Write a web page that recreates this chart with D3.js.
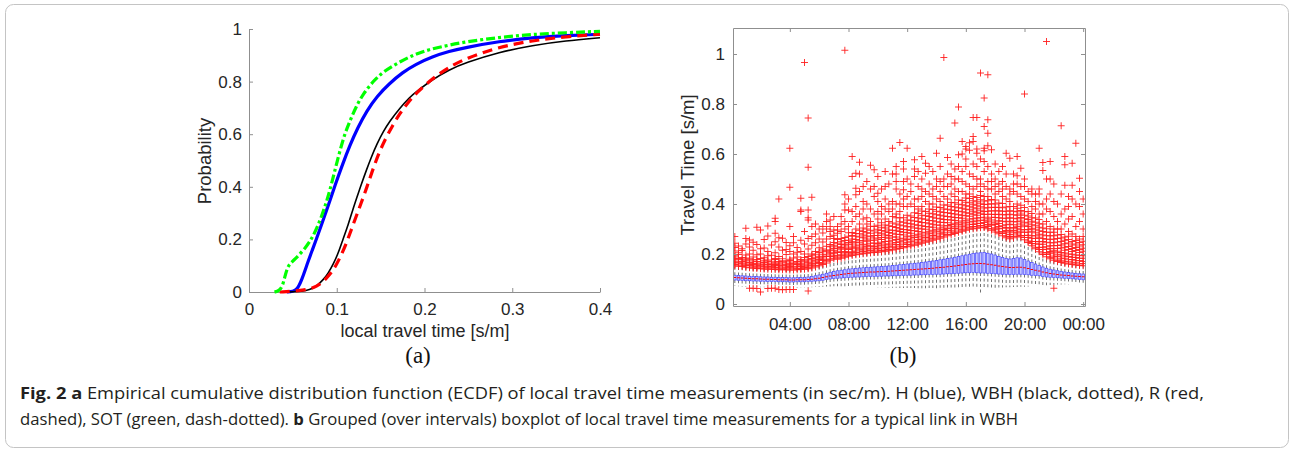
<!DOCTYPE html>
<html>
<head>
<meta charset="utf-8">
<script src="https://cdn.jsdelivr.net/npm/d3@7"></script>
<style>
body { margin: 0; background: #fff; }
svg { display: block; }
</style>
</head>
<body>
<svg id="fig" width="1294" height="453"></svg>
<script>
// ---------------- data: panel (a) ECDF curves, [travel time, probability] ----------------
let ecdfH = [[0.043,0],[0.05,0.002],[0.055,0.01],[0.06,0.044],[0.067,0.113],[0.072,0.158],[0.077,0.203],
  [0.082,0.25],[0.087,0.298],[0.092,0.345],[0.098,0.405],[0.106,0.48],[0.115,0.558],[0.124,0.625],[0.134,0.688],
  [0.146,0.745],[0.16,0.793],[0.175,0.835],[0.19,0.866],[0.209,0.895],[0.228,0.915],[0.247,0.93],[0.285,0.953],
  [0.323,0.967],[0.361,0.975],[0.4,0.98]];
let ecdfWBH = [[0.039,0],[0.05,0.001],[0.06,0.003],[0.069,0.008],[0.077,0.022],[0.0845,0.046],[0.09,0.07],
  [0.096,0.105],[0.102,0.15],[0.107,0.2],[0.113,0.255],[0.118,0.31],[0.123,0.36],[0.128,0.41],[0.134,0.465],
  [0.139,0.51],[0.146,0.565],[0.153,0.61],[0.16,0.648],[0.172,0.7],[0.183,0.74],[0.19,0.76],[0.209,0.808],
  [0.228,0.845],[0.247,0.872],[0.285,0.912],[0.323,0.938],[0.361,0.955],[0.4,0.967]];
let ecdfR = [[0.035,0],[0.058,0.005],[0.07,0.012],[0.077,0.022],[0.083,0.035],[0.088,0.052],[0.094,0.075],
  [0.0996,0.103],[0.105,0.14],[0.111,0.185],[0.116,0.232],[0.122,0.286],[0.128,0.34],[0.134,0.395],[0.14,0.455],
  [0.147,0.52],[0.155,0.58],[0.164,0.635],[0.172,0.68],[0.18,0.715],[0.19,0.755],[0.209,0.812],[0.228,0.855],
  [0.247,0.888],[0.285,0.932],[0.323,0.956],[0.361,0.971],[0.4,0.98]];
let ecdfSOT = [[0.029,0],[0.034,0.004],[0.038,0.02],[0.041,0.06],[0.044,0.095],[0.048,0.112],[0.054,0.13],
  [0.064,0.166],[0.071,0.2],[0.077,0.24],[0.083,0.29],[0.088,0.34],[0.092,0.385],[0.097,0.45],[0.103,0.53],
  [0.109,0.6],[0.115,0.65],[0.122,0.705],[0.13,0.752],[0.141,0.8],[0.153,0.838],[0.172,0.876],[0.19,0.905],
  [0.209,0.926],[0.247,0.952],[0.285,0.968],[0.323,0.98],[0.361,0.986],[0.4,0.991]];

let aXTicks = [0, 0.1, 0.2, 0.3, 0.4];
let aXTickLabels = ["0", "0.1", "0.2", "0.3", "0.4"];
let aYTicks = [0, 0.2, 0.4, 0.6, 0.8, 1];
let aYTickLabels = ["0", "0.2", "0.4", "0.6", "0.8", "1"];

// ---------------- data: panel (b) boxplot per 15-min slot ----------------
let slots = d3.range(1, 97);
let bXTicks = [16, 32, 48, 64, 80, 96];
let bXTickLabels = ["04:00", "08:00", "12:00", "16:00", "20:00", "00:00"];
let bYTicks = [0, 0.2, 0.4, 0.6, 0.8, 1];
let bYTickLabels = ["0", "0.2", "0.4", "0.6", "0.8", "1"];

let med = [.106,.105,.104,.103, .102,.101,.101,.100, .099,.099,.098,.098, .097,.097,.097,.096,
  .096,.097,.097,.097, .098,.099,.101,.103, .106,.109,.112,.114, .116,.118,.120,.122,
  .123,.124,.125,.126, .127,.128,.128,.129, .130,.130,.131,.132, .133,.134,.135,.136,
  .137,.138,.139,.140, .141,.142,.143,.145, .146,.147,.149,.150, .152,.154,.156,.158,
  .160,.161,.162,.162, .161,.159,.157,.155, .152,.150,.148,.146, .146,.147,.147,.145,
  .142,.138,.135,.132, .128,.125,.122,.120, .118,.116,.115,.114, .112,.111,.110,.109];
let q1 = [.096,.095,.094,.093, .093,.092,.092,.091, .091,.090,.090,.090, .089,.089,.089,.088,
  .088,.089,.089,.089, .090,.091,.092,.093, .095,.098,.100,.102, .103,.104,.105,.106,
  .107,.108,.108,.109, .110,.110,.110,.111, .111,.112,.112,.113, .113,.114,.114,.115,
  .115,.116,.116,.117, .117,.118,.118,.119, .119,.120,.121,.121, .122,.123,.124,.125,
  .125,.126,.125,.124, .124,.123,.122,.121, .120,.119,.118,.118, .118,.119,.119,.118,
  .117,.115,.114,.113, .110,.108,.107,.106, .105,.104,.103,.102, .101,.100,.098,.097];
let q3 = [.115,.114,.113,.112, .111,.110,.110,.109, .108,.108,.107,.107, .106,.106,.106,.105,
  .105,.106,.106,.107, .108,.110,.113,.116, .119,.123,.127,.130, .133,.135,.137,.140,
  .141,.142,.144,.145, .146,.147,.148,.149, .150,.151,.152,.154, .155,.157,.158,.160,
  .161,.163,.164,.166, .168,.170,.172,.174, .177,.179,.182,.184, .187,.190,.193,.196,
  .199,.202,.204,.205, .206,.203,.200,.196, .190,.186,.182,.180, .182,.185,.184,.178,
  .172,.166,.160,.154, .148,.143,.139,.136, .133,.130,.128,.126, .124,.122,.121,.120];
let wLo = [.072,.071,.070,.069, .069,.068,.068,.067, .067,.066,.066,.066, .065,.065,.065,.065,
  .065,.065,.066,.066, .066,.067,.068,.068, .069,.070,.070,.071, .071,.071,.070,.070,
  .069,.069,.068,.068, .067,.067,.066,.066, .066,.066,.065,.065, .065,.064,.064,.064,
  .064,.064,.063,.063, .063,.064,.064,.060, .065,.065,.066,.066, .066,.067,.067,.066,
  .066,.065,.064,.044, .060,.062,.062,.064, .066,.066,.067,.067, .068,.068,.069,.069,
  .070,.071,.072,.073, .074,.075,.076,.077, .078,.078,.079,.079, .080,.080,.081,.081];
let wHi = [.150,.148,.146,.144, .142,.140,.139,.138, .137,.136,.136,.135, .134,.134,.134,.133,
  .133,.134,.135,.136, .138,.141,.145,.150, .155,.161,.172,.178, .176,.180,.184,.188,
  .191,.194,.196,.198, .200,.202,.203,.204, .206,.208,.210,.213, .216,.219,.222,.226,
  .229,.232,.236,.240, .244,.248,.252,.256, .260,.265,.270,.275, .279,.284,.288,.292,
  .296,.298,.300,.302, .303,.298,.292,.285, .278,.270,.262,.258, .262,.268,.265,.254,
  .243,.230,.218,.206, .195,.186,.178,.172, .167,.163,.160,.157, .155,.153,.151,.150];
let outliers = [
  [.153,.158,.167,.171,.18,.188,.193,.212,.226,.243,.27],
  [.151,.16,.165,.177,.182,.198,.205,.232],
  [.15,.155,.163,.17,.179,.186,.214,.221],
  [.147,.153,.159,.168,.175,.184,.196,.24,.262,.303],
  [.063,.145,.154,.16,.166,.177,.181,.2,.228,.256],
  [.063,.143,.149,.158,.163,.172,.188,.215,.247],
  [.062,.142,.147,.153,.161,.17,.178,.197,.238,.307],
  [.048,.141,.149,.155,.159,.168,.182,.2,.221,.296],
  [.14,.144,.151,.16,.166,.175,.185,.224,.258],
  [.062,.139,.147,.152,.158,.169,.176,.193,.21,.272,.312],
  [.063,.139,.143,.15,.157,.163,.171,.195,.236],
  [.063,.138,.146,.154,.158,.165,.178,.182,.205,.249,.283,.33,.343],
  [.058,.137,.141,.148,.156,.161,.17,.19,.228,.265,.42],
  [.057,.137,.144,.152,.155,.167,.173,.181,.215,.263],
  [.058,.137,.141,.147,.157,.16,.169,.198,.218,.246],
  [.058,.136,.145,.15,.155,.163,.174,.179,.21,.233,.31,.467,.623],
  [.058,.136,.141,.148,.157,.161,.168,.184,.2,.245,.27],
  [.137,.143,.149,.158,.164,.17,.188,.207,.226],
  [.138,.142,.15,.155,.161,.172,.178,.21,.255,.37,.376,.423],
  [.139,.146,.151,.159,.168,.173,.186,.2,.24,.29,.966],
  [.052,.141,.145,.153,.164,.168,.179,.19,.22,.262,.336,.345,.376,.547,.744],
  [.144,.152,.157,.163,.176,.182,.195,.2,.235,.27,.31,.427],
  [.148,.153,.163,.169,.175,.187,.199,.21,.245,.28,.32],
  [.153,.161,.166,.178,.184,.191,.206,.225,.26,.3],
  [.158,.163,.174,.18,.188,.199,.212,.22,.248,.284,.31],
  [.164,.171,.177,.19,.196,.209,.215,.231,.26,.3,.33,.36],
  [.175,.18,.19,.201,.207,.216,.229,.238,.27,.29,.31,.336],
  [.181,.189,.195,.203,.215,.222,.235,.246,.262,.275,.296,.35],
  [.179,.185,.193,.206,.211,.223,.229,.243,.258,.283,.296,.31],
  [.183,.192,.197,.207,.219,.226,.238,.249,.262,.29,.32,.35],
  [.187,.193,.204,.21,.223,.232,.24,.254,.266,.3,.33,.376,.4,.437,1.015],
  [.191,.199,.206,.218,.224,.237,.246,.255,.271,.285,.31,.376,.42],
  [.194,.201,.209,.221,.228,.24,.249,.26,.274,.286,.33,.37,.51,.59],
  [.197,.206,.212,.225,.232,.247,.258,.271,.282,.3,.35,.39,.437,.463,.523],
  [.199,.204,.217,.223,.236,.245,.253,.268,.281,.295,.32,.36,.45,.52,.567],
  [.201,.21,.216,.228,.239,.253,.265,.276,.29,.304,.34,.38,.41,.47],
  [.203,.208,.221,.229,.236,.251,.26,.272,.285,.3,.32,.345,.4,.49],
  [.205,.214,.22,.233,.243,.255,.269,.283,.295,.311,.33,.38,.46,.555],
  [.206,.211,.224,.23,.244,.255,.264,.274,.292,.31,.36,.43,.47,.537],
  [.207,.216,.222,.236,.242,.26,.274,.285,.299,.315,.34,.37,.41,.443,.51],
  [.209,.214,.228,.235,.247,.258,.266,.281,.294,.307,.325,.36,.39,.46],
  [.211,.22,.226,.24,.25,.267,.276,.289,.304,.316,.34,.38,.42,.47,.53],
  [.213,.218,.232,.239,.251,.263,.274,.286,.296,.313,.33,.37,.4,.48],
  [.216,.225,.231,.244,.255,.268,.283,.295,.31,.324,.35,.38,.41,.52,.623],
  [.219,.224,.238,.246,.258,.268,.279,.293,.306,.32,.345,.36,.4,.46,.49,.52,.55],
  [.222,.231,.237,.251,.26,.278,.29,.301,.316,.329,.345,.37,.4,.44,.646],
  [.225,.23,.244,.253,.263,.276,.287,.298,.313,.327,.345,.39,.42,.457,.49,.54,.57],
  [.229,.238,.245,.258,.269,.285,.297,.309,.323,.336,.355,.39,.43,.5,.623],
  [.232,.237,.251,.26,.272,.283,.294,.309,.321,.335,.352,.4,.45,.48],
  [.235,.244,.252,.266,.275,.293,.304,.317,.332,.346,.365,.39,.42,.51,.54,.577],
  [.239,.245,.258,.268,.279,.29,.303,.315,.33,.344,.362,.38,.42,.47,.53],
  [.243,.252,.26,.272,.284,.3,.313,.326,.341,.355,.372,.39,.43,.46,.5,.59],
  [.247,.253,.266,.276,.287,.299,.31,.325,.339,.353,.37,.41,.45,.523,.563],
  [.251,.26,.268,.281,.291,.308,.321,.334,.35,.363,.38,.4,.44,.48,.55],
  [.255,.261,.274,.284,.295,.307,.319,.333,.347,.361,.378,.4,.43,.46,.53],
  [.259,.268,.276,.289,.299,.316,.329,.343,.357,.371,.388,.42,.47,.5,.603],
  [.263,.269,.283,.292,.304,.315,.327,.341,.355,.369,.386,.41,.45,.49,.55,.663],
  [.268,.277,.285,.298,.308,.326,.338,.352,.366,.38,.396,.43,.47,.5,.986],
  [.273,.279,.293,.302,.314,.325,.337,.35,.365,.379,.396,.42,.47,.52,.586],
  [.278,.287,.295,.308,.318,.336,.348,.362,.376,.39,.406,.44,.48,.51,.56],
  [.282,.288,.302,.311,.323,.334,.346,.36,.374,.388,.405,.43,.46,.5,.54,.724],
  [.287,.296,.304,.317,.327,.345,.357,.371,.385,.399,.416,.45,.5,.55,.597,.788],
  [.291,.297,.311,.32,.332,.343,.355,.369,.383,.397,.414,.45,.49,.53,.6,.65],
  [.295,.304,.312,.325,.335,.353,.365,.379,.393,.407,.424,.44,.48,.55,.58,.62,.63],
  [.299,.305,.319,.328,.34,.351,.363,.377,.391,.405,.422,.44,.47,.52,.615,.645],
  [.301,.31,.318,.331,.341,.359,.371,.385,.399,.413,.43,.46,.51,.56,.65,.67,.746],
  [.303,.309,.323,.332,.344,.355,.367,.381,.395,.409,.426,.47,.5,.55,.603,.62,.746],
  [.305,.314,.322,.335,.345,.363,.375,.389,.403,.417,.434,.45,.48,.5,.58,.924],
  [.306,.312,.326,.335,.347,.358,.37,.384,.398,.412,.43,.47,.53,.57,.613,.623,.71,.824],
  [.301,.31,.318,.331,.341,.359,.371,.385,.399,.413,.43,.46,.49,.55,.633,.683,.737,.917],
  [.295,.301,.315,.324,.336,.347,.359,.373,.387,.401,.418,.46,.49,.52,.617],
  [.288,.297,.305,.318,.328,.346,.358,.372,.386,.4,.416,.44,.47,.5,.56],
  [.281,.287,.301,.31,.322,.333,.345,.359,.373,.387,.404,.45,.48,.53],
  [.273,.282,.29,.303,.313,.331,.343,.357,.371,.385,.402,.43,.46,.49,.55],
  [.265,.271,.285,.294,.306,.317,.329,.343,.357,.371,.388,.42,.47,.52,.603],
  [.261,.27,.278,.291,.301,.319,.331,.345,.359,.373,.39,.41,.44,.46,.583],
  [.265,.271,.285,.294,.306,.317,.329,.343,.357,.371,.39,.45,.48,.52],
  [.271,.28,.288,.301,.311,.329,.341,.355,.369,.383,.4,.44,.48,.513,.59],
  [.268,.274,.288,.297,.309,.32,.332,.346,.36,.374,.395,.43,.47,.543],
  [.257,.266,.274,.287,.297,.315,.327,.341,.355,.369,.386,.42,.47,.5,.84],
  [.246,.252,.266,.275,.287,.298,.31,.324,.338,.352,.37,.41,.45],
  [.233,.242,.25,.263,.273,.291,.303,.317,.331,.345,.362,.39,.44,.46],
  [.221,.227,.241,.25,.262,.273,.285,.299,.313,.327,.344,.38,.41,.44],
  [.209,.218,.226,.239,.249,.267,.279,.293,.307,.321,.338,.36,.4,.44,.46,.623],
  [.198,.204,.218,.227,.239,.25,.262,.276,.29,.304,.32,.36,.4,.534,.566],
  [.189,.198,.206,.219,.229,.247,.259,.273,.287,.301,.33,.38,.42,.5,1.05],
  [.181,.187,.201,.21,.222,.233,.245,.259,.273,.287,.31,.37,.44,.5,.57],
  [.063,.175,.184,.192,.205,.215,.233,.245,.259,.273,.287,.3,.35,.41,.48],
  [.17,.176,.19,.199,.211,.222,.234,.248,.262,.276,.3,.33,.4],
  [.166,.175,.183,.196,.206,.224,.236,.25,.264,.278,.3,.36,.44,.713],
  [.163,.169,.183,.192,.204,.215,.227,.241,.255,.268,.32,.38,.475,.557,.59],
  [.16,.169,.177,.19,.2,.218,.23,.244,.258,.271,.29,.34,.39,.43],
  [.158,.164,.178,.187,.199,.21,.222,.236,.25,.28,.35,.42,.475,.563],
  [.156,.165,.173,.186,.196,.214,.226,.24,.254,.27,.31,.4,.643],
  [.154,.16,.174,.183,.195,.206,.218,.232,.246,.26,.33,.39,.45,.503],
  [.153,.162,.17,.183,.193,.211,.223,.237,.251,.27,.3,.36,.42]
];

// ---------------- drawing ----------------
let svg = d3.select('#fig');
let tickFont = "'Liberation Sans', Arial, sans-serif";
let axisColor = "#8f8f8f";
let textColor = "#262626";

function style_axis(g) {
    g.select(".domain").attr("stroke", axisColor);
    g.selectAll(".tick line").attr("stroke", axisColor);
    g.selectAll(".tick text").attr("fill", textColor)
        .attr("font-family", tickFont).attr("font-size", 17);
}

function draw_ecdf() {
    let x = d3.scaleLinear().domain([0, 0.4]).range([249, 600]);
    let y = d3.scaleLinear().domain([0, 1]).range([292, 29]);

    svg.append("g")
        .attr("transform", "translate(0,292)")
        .call(d3.axisBottom(x).tickValues(aXTicks).tickFormat((d, i) => aXTickLabels[i])
            .tickSizeInner(-4).tickSizeOuter(0).tickPadding(11))
        .call(style_axis);
    svg.append("g")
        .attr("transform", "translate(249,0)")
        .call(d3.axisLeft(y).tickValues(aYTicks).tickFormat((d, i) => aYTickLabels[i])
            .tickSizeInner(-4).tickSizeOuter(0).tickPadding(7))
        .call(style_axis);

    let line = d3.line().x(d => x(d[0])).y(d => y(d[1])).curve(d3.curveBasis);
    let series = [
        {data: ecdfH, color: "#0000ff", width: 3.2, dash: null},
        {data: ecdfWBH, color: "#000000", width: 1.6, dash: null},
        {data: ecdfR, color: "#ff0000", width: 3.2, dash: "10,6"},
        {data: ecdfSOT, color: "#00ff00", width: 3.2, dash: "9,3,3,3"}
    ];
    svg.append("g").selectAll("path")
        .data(series)
        .join("path")
        .attr("d", d => line(d.data))
        .attr("fill", "none")
        .attr("stroke", d => d.color)
        .attr("stroke-width", d => d.width)
        .attr("stroke-dasharray", d => d.dash);

    svg.append("text")
        .attr("x", 425).attr("y", 337)
        .attr("text-anchor", "middle")
        .attr("font-family", tickFont).attr("font-size", 18).attr("fill", textColor)
        .text("local travel time [s/m]");
    svg.append("text")
        .attr("transform", "translate(211,161) rotate(-90)")
        .attr("text-anchor", "middle")
        .attr("font-family", tickFont).attr("font-size", 18.5).attr("fill", textColor)
        .text("Probability");
    svg.append("text")
        .attr("x", 418).attr("y", 363)
        .attr("text-anchor", "middle")
        .attr("font-family", "'Liberation Serif', 'Times New Roman', serif").attr("font-size", 23)
        .attr("fill", "#111")
        .text("(a)");
}

function draw_boxplot() {
    let x = d3.scaleLinear().domain([0.5, 96.5]).range([733, 1085]);
    let y = d3.scaleLinear().domain([-0.008, 1.104]).range([306, 28]);

    svg.append("defs").append("clipPath").attr("id", "clipb")
        .append("rect").attr("x", 733).attr("y", 28).attr("width", 352).attr("height", 278);

    let plot = svg.append("g").attr("clip-path", "url(#clipb)");
    let bw = 2.6;

    // whiskers
    plot.append("g").selectAll("line.up")
        .data(slots)
        .join("line")
        .attr("x1", d => x(d)).attr("x2", d => x(d))
        .attr("y1", (d, i) => y(q3[i])).attr("y2", (d, i) => y(wHi[i]))
        .attr("stroke", "#707070").attr("stroke-width", 1).attr("stroke-dasharray", "3,2.5");
    plot.append("g").selectAll("line.lo")
        .data(slots)
        .join("line")
        .attr("x1", d => x(d)).attr("x2", d => x(d))
        .attr("y1", (d, i) => y(q1[i])).attr("y2", (d, i) => y(wLo[i]))
        .attr("stroke", "#707070").attr("stroke-width", 1).attr("stroke-dasharray", "3,2.5");

    // boxes
    plot.append("g").selectAll("rect")
        .data(slots)
        .join("rect")
        .attr("x", d => x(d) - bw / 2)
        .attr("width", bw)
        .attr("y", (d, i) => y(q3[i]))
        .attr("height", (d, i) => y(q1[i]) - y(q3[i]))
        .attr("fill", "#c2c4ff")
        .attr("stroke", "#4646ff").attr("stroke-width", 0.7);

    // medians
    plot.append("g").selectAll("line")
        .data(slots)
        .join("line")
        .attr("x1", d => x(d) - bw / 2).attr("x2", d => x(d) + bw / 2)
        .attr("y1", (d, i) => y(med[i])).attr("y2", (d, i) => y(med[i]))
        .attr("stroke", "#ff0000").attr("stroke-width", 1);

    // outliers
    let pts = [];
    outliers.forEach((arr, i) => arr.forEach(v => pts.push([slots[i], v])));
    plot.append("g").selectAll("path")
        .data(pts)
        .join("path")
        .attr("transform", d => `translate(${x(d[0])},${y(d[1])})`)
        .attr("d", "M-3.5,0H3.5M0,-3.5V3.5")
        .attr("fill", "none")
        .attr("stroke", "#ff1f1f").attr("stroke-width", 0.9);

    // axes: box with inward ticks on all sides
    svg.append("g")
        .attr("transform", "translate(0,306)")
        .call(d3.axisBottom(x).tickValues(bXTicks).tickFormat((d, i) => bXTickLabels[i])
            .tickSizeInner(-4).tickSizeOuter(0).tickPadding(12))
        .call(style_axis);
    svg.append("g")
        .attr("transform", "translate(0,28)")
        .call(d3.axisTop(x).tickValues(bXTicks).tickFormat("")
            .tickSizeInner(-4).tickSizeOuter(0))
        .call(style_axis);
    svg.append("g")
        .attr("transform", "translate(733,0)")
        .call(d3.axisLeft(y).tickValues(bYTicks).tickFormat((d, i) => bYTickLabels[i])
            .tickSizeInner(-4).tickSizeOuter(0).tickPadding(8))
        .call(style_axis);
    svg.append("g")
        .attr("transform", "translate(1085,0)")
        .call(d3.axisRight(y).tickValues(bYTicks).tickFormat("")
            .tickSizeInner(-4).tickSizeOuter(0))
        .call(style_axis);

    svg.append("text")
        .attr("transform", "translate(694,165) rotate(-90)")
        .attr("text-anchor", "middle")
        .attr("font-family", tickFont).attr("font-size", 18.5).attr("fill", textColor)
        .text("Travel Time [s/m]");
    svg.append("text")
        .attr("x", 903).attr("y", 363)
        .attr("text-anchor", "middle")
        .attr("font-family", "'Liberation Serif', 'Times New Roman', serif").attr("font-size", 23)
        .attr("fill", "#111")
        .text("(b)");
}

function draw_caption() {
    svg.append("rect")
        .attr("x", 5.5).attr("y", 4.5).attr("width", 1283).attr("height", 443)
        .attr("rx", 8).attr("fill", "none").attr("stroke", "#c4c4c4");

    let capFont = "'Open Sans', 'Noto Sans', sans-serif";
    let l1 = svg.append("text")
        .attr("x", 20).attr("y", 399)
        .attr("font-family", capFont).attr("font-size", 15.5).attr("fill", "#231f20")
        .attr("textLength", 1184).attr("lengthAdjust", "spacingAndGlyphs");
    l1.append("tspan").attr("font-weight", "bold").text("Fig. 2 a");
    l1.append("tspan").text(" Empirical cumulative distribution function (ECDF) of local travel time measurements (in sec/m). H (blue), WBH (black, dotted), R (red,");

    let l2 = svg.append("text")
        .attr("x", 20).attr("y", 425)
        .attr("font-family", capFont).attr("font-size", 15.5).attr("fill", "#231f20")
        .attr("textLength", 998).attr("lengthAdjust", "spacingAndGlyphs");
    l2.append("tspan").text("dashed), SOT (green, dash-dotted). ");
    l2.append("tspan").attr("font-weight", "bold").text("b");
    l2.append("tspan").text(" Grouped (over intervals) boxplot of local travel time measurements for a typical link in WBH");
}

draw_caption();
draw_ecdf();
draw_boxplot();
</script>
</body>
</html>
